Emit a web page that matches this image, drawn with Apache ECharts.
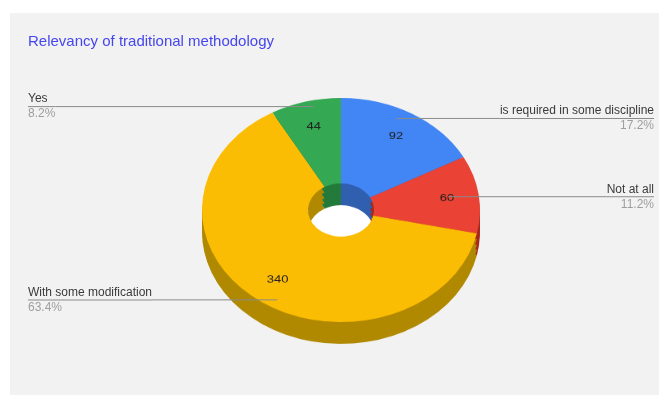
<!DOCTYPE html>
<html>
<head>
<meta charset="utf-8">
<script src="https://cdn.jsdelivr.net/npm/echarts@6/dist/echarts.min.js"></script>
<style>
  html, body { margin: 0; padding: 0; background: #fff; width: 659px; height: 395px; overflow: hidden; }
  #panel { position: absolute; left: 10px; top: 13px; right: 0; bottom: 0; background: #f2f2f2; }
  #pie, #chart { position: absolute; left: 0; top: 0; width: 659px; height: 395px; }
  /* flatten the pie into the tilted ellipse */
  #pie { transform-origin: 0 210px; transform: scaleY(0.806); }
</style>
</head>
<body>
<div id="panel"></div>
<div id="pie"></div>
<div id="chart"></div>
<script>
// data, clockwise from 12 o'clock
const categories = ['is required in some discipline', 'Not at all', 'With some modification', 'Yes'];
const counts = [92, 60, 340, 44];
const labelSide = ['right', 'right', 'left', 'left'];

const topColors = ['#4285f4', '#ea4335', '#fbbc04', '#34a853'];
const sideColors = ['#2f5fae', '#a8281c', '#b08900', '#237a3b'];
const depthSteps = [27, 20, 14, 7];

const cx = 341, cy = 210, rOuter = 139, rInner = 33;
const labelFont = 'Liberation Sans';

const sliceData = (colors) => counts.map((v, i) => ({
  value: v,
  name: categories[i],
  itemStyle: { color: colors[i] }
}));

const base = {
  type: 'pie',
  silent: true,
  startAngle: 90,
  clockwise: true,
  animation: false,
  itemStyle: { borderWidth: 0 },
  label: { show: false },
  labelLine: { show: false },
  emphasis: { disabled: true }
};

// pie body (gets squashed vertically by css)
let pieChart = echarts.init(document.getElementById('pie'));
let pieSeries = [];
// what you see through the hole
pieSeries.push(Object.assign({}, base, {
  radius: [0, rInner],
  center: [cx, cy + 27],
  data: [{ value: 1, itemStyle: { color: '#ffffff' } }]
}));
// side walls
depthSteps.forEach(d => {
  pieSeries.push(Object.assign({}, base, {
    radius: [rInner, rOuter],
    center: [cx, cy + d],
    data: sliceData(sideColors)
  }));
});
// top face
pieSeries.push(Object.assign({}, base, {
  radius: [rInner, rOuter],
  center: [cx, cy],
  data: sliceData(topColors)
}));
// numbers on the slices
pieSeries.push(Object.assign({}, base, {
  radius: [69, rOuter],
  center: [cx, cy],
  itemStyle: { color: 'rgba(0,0,0,0)', borderWidth: 0 },
  data: counts.map((v, i) => ({ value: v, name: categories[i] })),
  label: {
    show: true,
    position: 'inside',
    formatter: '{c}',
    fontFamily: labelFont,
    fontSize: 13,
    color: '#1e1e1e'
  }
}));
pieChart.setOption({ backgroundColor: 'transparent', series: pieSeries });

// title + outside labels (not squashed)
let myChart = echarts.init(document.getElementById('chart'));
myChart.setOption({
  backgroundColor: 'transparent',
  title: {
    text: 'Relevancy of traditional methodology',
    left: 28,
    top: 34,
    padding: 0,
    textStyle: { color: '#4646ee', fontSize: 15, fontWeight: 'normal', fontFamily: labelFont }
  },
  series: [
    Object.assign({}, base, {
      radius: [0, 108],
      center: [cx, cy + 2],
      percentPrecision: 1,
      avoidLabelOverlap: true,
      itemStyle: { color: 'rgba(0,0,0,0)', borderWidth: 0 },
      data: counts.map((v, i) => ({
        value: v,
        name: categories[i],
        label: { edgeDistance: labelSide[i] === 'left' ? 28 : 5 }
      })),
      label: {
        show: true,
        position: 'outside',
        alignTo: 'edge',
        distanceToLabelLine: 0,
        formatter: p => '{n|' + p.name + '}\n{hr|}\n{p|' + p.percent.toFixed(1) + '%}',
        rich: {
          n: { fontFamily: labelFont, fontSize: 12, color: '#3a3a3a', lineHeight: 14 },
          hr: { width: '100%', height: 1, lineHeight: 1, backgroundColor: '#8a8a8a' },
          p: { fontFamily: labelFont, fontSize: 12, color: '#9e9e9e', lineHeight: 14 }
        }
      },
      labelLine: {
        show: true,
        length: 1,
        length2: 1,
        lineStyle: { color: '#8a8a8a', width: 1 }
      }
    })
  ]
});
</script>
</body>
</html>
